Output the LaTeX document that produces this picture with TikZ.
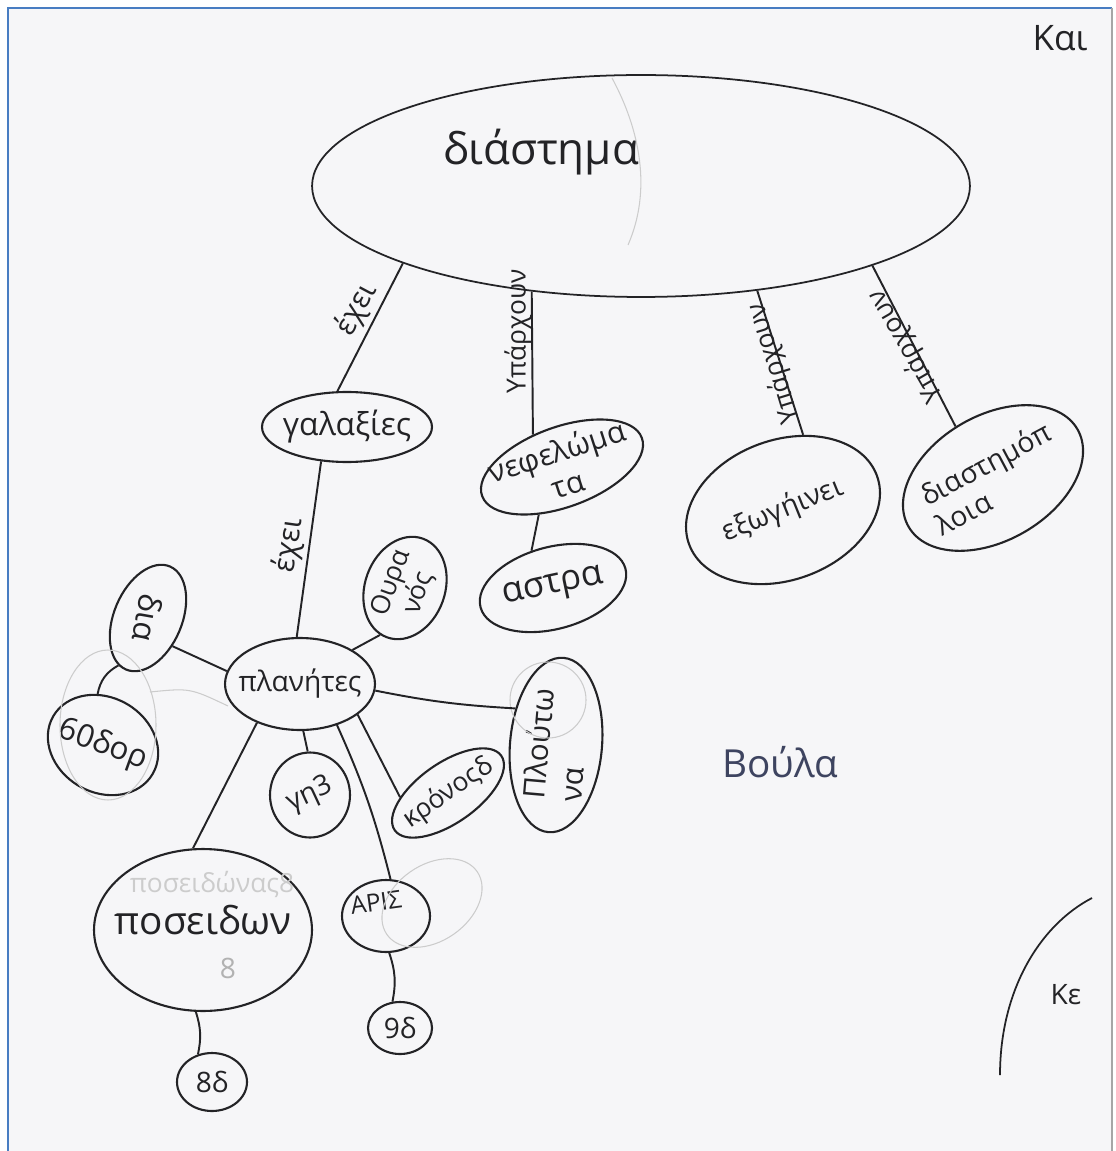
\documentclass[tikz,border=0pt]{standalone}
\usepackage{fontspec}
\setmainfont{Open Sans}
\usetikzlibrary{positioning, shapes.geometric, calc}
\definecolor{pencil}{RGB}{35,35,38}
\definecolor{paper}{RGB}{246,246,248}
\definecolor{frameblue}{RGB}{72,125,194}
\definecolor{signink}{RGB}{62,68,96}
\tikzset{
  blob/.style={draw=pencil, ellipse, line width=1.2pt, inner sep=0pt},
  txt/.style={font=\fontsize{#1}{#1}\selectfont, text=pencil, inner sep=0pt},
  link/.style={draw=pencil, line width=1.1pt},
  verb/.style={txt=#1},
  erased/.style={gray!40, line width=0.6pt},
}

\begin{document}
\begin{tikzpicture}[x=0.02cm, y=-0.02cm]
\useasboundingbox (0,0) rectangle (1115,1151);
\fill[white] (0,0) rectangle (1115,1151);
\fill[paper] (8,8) rectangle (1112,1151);
\draw[frameblue, line width=1.6pt] (8,1151) -- (8,8) -- (1112,8);
\draw[gray!70, line width=0.8pt] (1112,8) -- (1112,1151);

% top level
\node[blob, line width=1pt, minimum width=13.16cm, minimum height=4.44cm,
  label={[txt=25, xshift=-2cm, yshift=0.68cm]center:διάστημα}] (space) at (641,186) {};
\draw[erased] (612,78) .. controls (640,130) and (652,190) .. (628,245);

\node[blob, minimum width=3.4cm, minimum height=1.4cm,
  label={[txt=18]center:γαλαξίες}] (galaxies) at (347,427) {};
\node[blob, rotate=20, minimum width=3.4cm, minimum height=1.6cm,
  label={[txt=17, rotate=18, align=center]center:νεφελώμα\\[3pt]τα}] (nebulae) at (562,467) {};
\node[blob, rotate=15, minimum width=3.0cm, minimum height=1.64cm,
  label={[txt=20, rotate=12]center:αστρα}] (stars) at (553,588) {};
\node[blob, rotate=20, minimum width=4.0cm, minimum height=2.8cm,
  label={[txt=16, rotate=22]center:εξωγήινει}] (aliens) at (783,510) {};
\node[blob, rotate=30, minimum width=3.9cm, minimum height=2.5cm,
  label={[txt=16, rotate=28, align=left]center:διαστημόπ\\[2pt]λοια}] (ships) at (993,478) {};

\draw[link] (space.-162) -- node[verb=17, pos=0.43, xshift=-0.36cm, yshift=0.18cm, rotate=62] {έχει} (galaxies.105);
\draw[link] (space.-136) -- node[verb=15, pos=0.28, xshift=-0.28cm, rotate=90] {Υπάρχουν} (nebulae.112);
\draw[link] (space.-42) -- node[verb=15, pos=0.52, xshift=-0.14cm, yshift=0.04cm, rotate=107] {Υπάρχουν} (aliens.55);
\draw[link] (space.-19) -- node[verb=15, pos=0.5, xshift=-0.16cm, rotate=120] {Υπάρχουν} (ships.96);
\draw[link] (nebulae.-136) -- (stars.105);

% planets
\node[blob, minimum width=3.0cm, minimum height=1.84cm,
  label={[txt=16]center:πλανήτες}] (planets) at (300,684) {};
\draw[link] (galaxies.-127) -- node[verb=17, pos=0.48, xshift=-0.4cm, rotate=82] {έχει} (planets.94);

\node[blob, rotate=-113, minimum width=2.24cm, minimum height=1.36cm,
  label={[txt=18, rotate=-100]center:δια}] (jupiter) at (148,618) {};
\node[blob, rotate=-30, minimum width=2.3cm, minimum height=1.9cm,
  label={[txt=18, rotate=-20]center:60δορ}] (moons60) at (103,745) {};
\node[blob, minimum width=1.6cm, minimum height=1.7cm,
  label={[txt=16, rotate=25]center:γη3}] (earth) at (310,795) {};
\node[blob, rotate=35, minimum width=2.6cm, minimum height=1.2cm,
  label={[txt=15, rotate=35]center:κρόνοςδ}] (saturn) at (448,793) {};
\node[blob, rotate=85, minimum width=3.5cm, minimum height=1.84cm,
  label={[txt=17, rotate=85, align=left]center:Πλούτω\\[4pt]να}] (pluto) at (556,745) {};
\node[blob, rotate=70, minimum width=2.1cm, minimum height=1.6cm,
  label={[txt=15, rotate=70, align=center]center:Ουρα\\νός}] (uranus) at (405,588) {};
\node[blob, minimum width=4.36cm, minimum height=3.24cm,
  label={[txt=22, yshift=0.2cm]center:ποσειδων}] (neptune) at (203,930) {};
\node[blob, minimum width=1.76cm, minimum height=1.44cm,
  label={[txt=14, xshift=-0.2cm, yshift=0.28cm, rotate=8]center:ΑΡΙΣ}] (mars) at (386,916) {};
\node[blob, minimum width=1.28cm, minimum height=1.04cm,
  label={[txt=16]center:9δ}] (moons2) at (400,1028) {};
\node[blob, minimum width=1.4cm, minimum height=1.16cm,
  label={[txt=16]center:8δ}] (moons8) at (212,1082) {};

% erased pencil
\draw[erased] (108,725) ellipse (48 and 75);
\draw[erased] (150,692) .. controls (190,688) .. (228,706);
\draw[erased] (548,700) circle (38);
\draw[erased, rotate around={35:(432,903)}] (432,903) ellipse (55 and 38);
\node[txt=15, text=gray!40] (ghost) at (212,884) {ποσειδώνας8};
\node[txt=16, text=gray!60] (ghost8) at (228,968) {8};

\draw[link] (planets.33) -- (uranus.172);
\draw[link] (planets.170) -- (jupiter.64);
\draw[link] (jupiter.-9) to[bend right=25] (moons60.126);
\draw[link] (planets.-86) -- (earth.93);
\draw[link] (planets.-28) -- (saturn.150);
\draw[link] (planets.-5) to[bend right=4] (pluto.53);
\draw[link] (planets.-138) -- (neptune.97);
\draw[link] (planets.-48) to[bend left=5] (mars.83);
\draw[link] (mars.-85) to[bend left=15] (moons2.106);
\draw[link] (neptune.-95) to[bend left=15] (moons8.117);

% margin notes
\node[txt=22, text=signink] (name) at (780,762) {Βούλα};
\node[txt=20] (kai) at (1060,38) {Και};
\draw[pencil, line width=1pt] (1092,898) .. controls (1040,925) and (1000,990) .. (1000,1075);
\node[txt=16] (ke) at (1066,995) {Κε};
\end{tikzpicture}
\end{document}
